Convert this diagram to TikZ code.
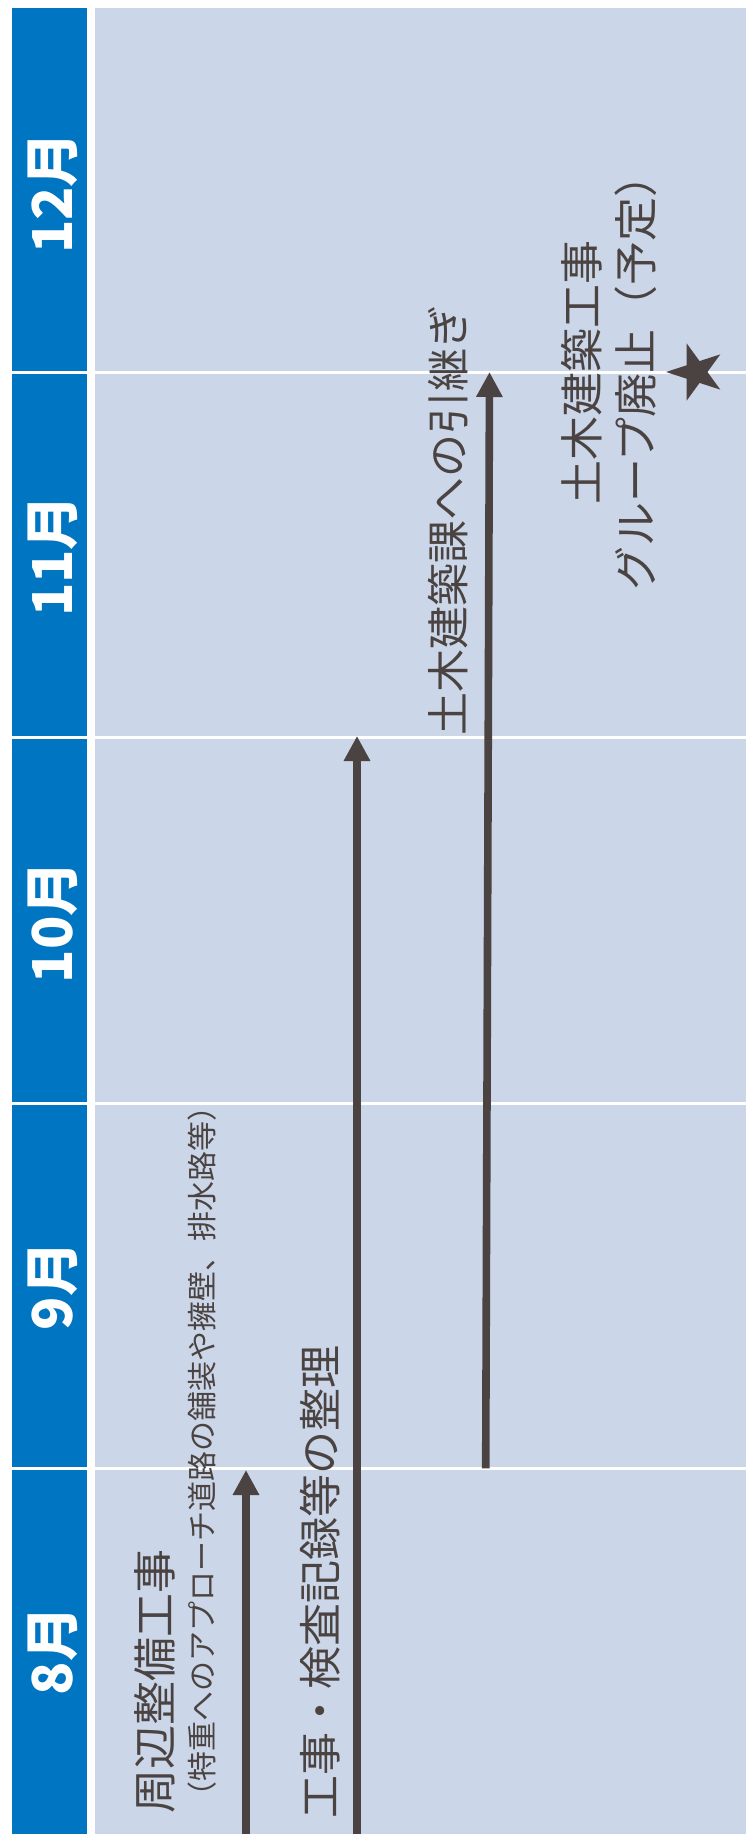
\documentclass[tikz,border=0pt]{standalone}
\usepackage{fontspec}
\newfontfamily\jp{Noto Sans CJK JP}
\usetikzlibrary{arrows.meta,shapes.geometric}
\definecolor{mblue}{HTML}{0075C2}
\definecolor{panel}{HTML}{CBD6E8}
\definecolor{inkc}{HTML}{4A4341}
\begin{document}
\begin{tikzpicture}[x=0.5pt,y=-0.5pt,
  month/.style={rotate=90, text=white, inner sep=0pt, font=\jp\bfseries\fontsize{27.5pt}{30pt}\selectfont},
  lbl/.style={rotate=90, text=inkc, inner sep=0pt, font=\jp\fontsize{22pt}{27pt}\selectfont},
  arr/.style={draw=inkc, line width=3.8pt, -{Triangle[length=12.5pt,width=12.5pt]}},
  sepline/.style={draw=white, line width=1.6pt}]
\useasboundingbox (0,0) rectangle (746,1834);
\fill[white] (0,0) rectangle (746,1834);
\fill[panel] (95,8) rectangle (746,1834);
\fill[mblue] (11.5,8) rectangle (87,1834);
\foreach \y in {372.5,737.8,1103.1,1468.4} \draw[sepline] (8,\y) -- (746,\y);
% month labels
\node[month] (m12) at (52.5,193) {12月};
\node[month] (m11) at (52.5,556) {11月};
\node[month] (m10) at (52.5,922) {10月};
\node[month] (m9) at (52.5,1286) {9月};
\node[month] (m8) at (52.5,1651) {8月};
% arrows
\coordinate (a1s) at (246,1834);
\coordinate (a1e) at (246,1470);
\coordinate (a2s) at (357,1834);
\coordinate (a2e) at (357,736);
\coordinate (a3s) at (485.7,1468.4);
\coordinate (a3e) at (489.5,372);
\draw[arr] (a1s) -- (a1e);
\draw[arr] (a2s) -- (a2e);
\draw[arr] (a3s) -- (a3e);
% texts
\node[lbl] (t1) at (155,1681.5) {周辺整備工事};
\node[lbl, font=\jp\fontsize{15pt}{18pt}\selectfont] (t1s) at (202,1451.5) {（特重へのアプローチ道路の舗装や擁壁、排水路等）};
\node[lbl, font=\jp\fontsize{21.5pt}{26pt}\selectfont] (t2) at (320,1581.5) {工事・検査記録等の整理};
\node[lbl, font=\jp\fontsize{21.5pt}{26pt}\selectfont] (t3) at (448,520) {土木建築課への引継ぎ};
\node[lbl, align=center] (t4) at (609,372) {土木建築工事\\グループ廃止（予定）};
% star
\node[star, star points=5, star point ratio=2.618, fill=inkc, inner sep=0pt, minimum size=30pt, shape border rotate=90] (st) at (696,372) {};
\end{tikzpicture}
\end{document}
